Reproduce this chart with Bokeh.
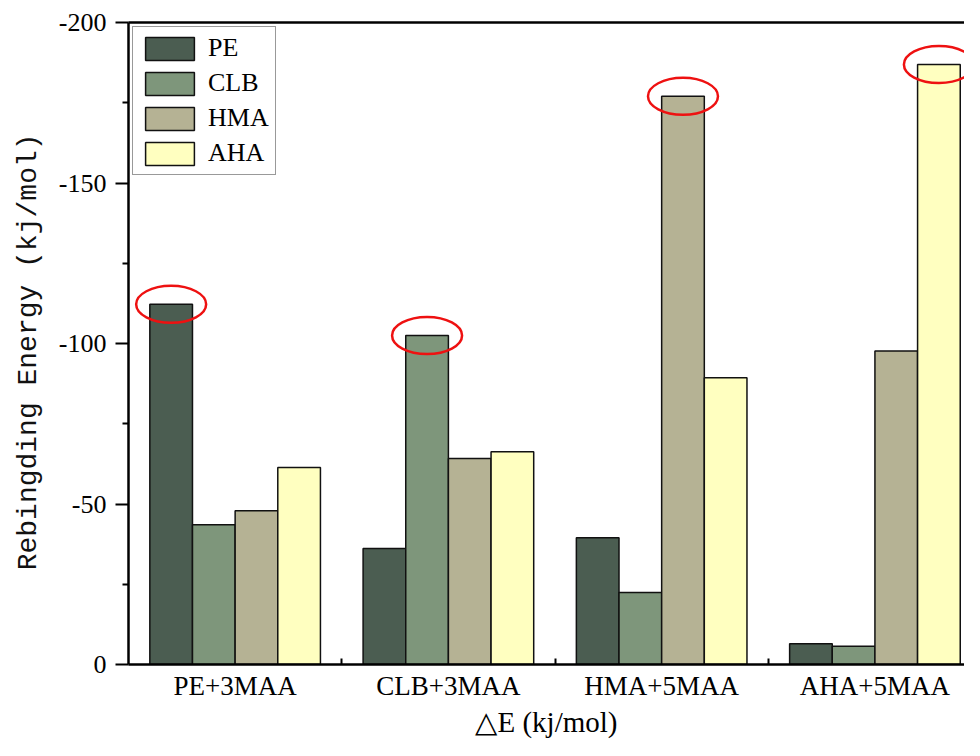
from bokeh.plotting import figure
from bokeh.models import Range1d, FixedTicker, LinearAxis, ColumnDataSource
from bokeh.embed import file_html
from bokeh.resources import INLINE

categories = ["PE+3MAA", "CLB+3MAA", "HMA+5MAA", "AHA+5MAA"]
series = ["PE", "CLB", "HMA", "AHA"]
pe = [-112.2, -36.1, -39.5, -6.5]
clb = [-43.5, -102.5, -22.4, -5.7]
hma = [-47.9, -64.2, -177.0, -97.7]
aha = [-61.4, -66.3, -89.3, -186.9]
colors = ["#4b5d51", "#7e967b", "#b5b294", "#ffffc0"]
highlight = [("PE+3MAA", "PE"), ("CLB+3MAA", "CLB"), ("HMA+5MAA", "HMA"), ("AHA+5MAA", "AHA")]
y_ticks = [-200, -150, -100, -50, 0]
y_tick_labels = ["-200", "-150", "-100", "-50", "0"]
y_minor_ticks = [-175, -125, -75, -25]

values = {"PE": pe, "CLB": clb, "HMA": hma, "AHA": aha}
bar_w = 0.2
offsets = [-0.3, -0.1, 0.1, 0.3]

p = figure(width=964, height=740, output_backend="svg", toolbar_location=None,
           x_range=Range1d(0.5, 4.42), y_range=Range1d(0, -200),
           min_border_left=128, min_border_right=0, min_border_top=22, min_border_bottom=40)
p.outline_line_color = None
p.xgrid.visible = False
p.ygrid.visible = False

serif = "Liberation Serif"

for s, off, col in zip(series, offsets, colors):
    xs = [i + 1 + off for i in range(len(categories))]
    src = ColumnDataSource(dict(x=xs, top=values[s]))
    p.vbar(x="x", top="top", bottom=0, width=bar_w, source=src,
           fill_color=col, line_color="#111111", line_width=1.5, legend_label=s)

# highlight ellipses
ex, ey = [], []
for c, s in highlight:
    ci = categories.index(c)
    si = series.index(s)
    ex.append(ci + 1 + offsets[si])
    ey.append(values[s][ci])
p.ellipse(x=ex, y=ey, width=70, height=37, width_units="screen", height_units="screen",
          fill_color=None, line_color="#ee1111", line_width=2.5)

# x axis
xa = p.xaxis[0]
xa.ticker = FixedTicker(ticks=[1, 2, 3, 4], minor_ticks=[1.5, 2.5, 3.5])
xa.major_label_overrides = {i + 1: c for i, c in enumerate(categories)}
xa.major_tick_line_color = None
xa.major_tick_in = 0
xa.major_tick_out = 0
xa.minor_tick_in = 6
xa.minor_tick_out = 0
xa.minor_tick_line_width = 2
xa.axis_line_width = 2.5
xa.major_label_text_font = serif
xa.major_label_text_font_size = "27px"
xa.major_label_text_color = "black"
xa.major_label_standoff = 6
xa.axis_label = "\u25b3E (kj/mol)"
xa.axis_label_text_font = serif
xa.axis_label_text_font_size = "29px"
xa.axis_label_text_font_style = "normal"
xa.axis_label_text_color = "black"
xa.axis_label_standoff = 2

# y axis
ya = p.yaxis[0]
ya.ticker = FixedTicker(ticks=y_ticks, minor_ticks=y_minor_ticks)
ya.major_label_overrides = {t: l for t, l in zip(y_ticks, y_tick_labels)}
ya.major_tick_in = 0
ya.major_tick_out = 13
ya.minor_tick_in = 0
ya.minor_tick_out = 6
ya.major_tick_line_width = 2
ya.minor_tick_line_width = 2
ya.axis_line_width = 2.5
ya.major_label_text_font = serif
ya.major_label_text_font_size = "26px"
ya.major_label_text_color = "black"
ya.major_label_standoff = 9
ya.axis_label = "Rebingding Energy  (kj/mol)"
ya.axis_label_text_font = "Liberation Mono"
ya.axis_label_text_font_size = "28px"
ya.axis_label_text_font_style = "normal"
ya.axis_label_text_color = "#111111"
ya.axis_label_standoff = 12

# top frame line
top = LinearAxis(ticker=FixedTicker(ticks=[]), axis_line_width=2.5,
                 major_tick_line_color=None, minor_tick_line_color=None,
                 major_label_text_font_size="0px")
p.add_layout(top, "above")

lg = p.legend[0]
lg.location = "top_left"
lg.glyph_width = 61
lg.glyph_height = 29
lg.spacing = 5
lg.padding = 6
lg.margin = 4
lg.label_standoff = 8
lg.label_text_font = serif
lg.label_text_font_size = "26px"
lg.label_text_color = "black"
lg.border_line_color = "#333333"
lg.border_line_width = 1
lg.background_fill_alpha = 1

open("out.html", "w").write(file_html(p, INLINE))
